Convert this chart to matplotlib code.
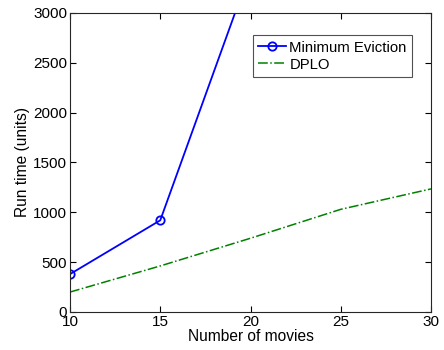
import matplotlib
matplotlib.use("Agg")
import matplotlib.pyplot as plt

plt.rcParams['font.family'] = ['Liberation Sans', 'DejaVu Sans']

movies = [10, 15, 20, 25, 30]
min_eviction_x = [10, 15, 20]
min_eviction = [380, 920, 3430]
dplo = [200, 462, 740, 1030, 1235]

xticks = [10, 15, 20, 25, 30]
yticks = [0, 500, 1000, 1500, 2000, 2500, 3000]

fig = plt.figure(figsize=(4.44, 3.5), dpi=100)
ax = fig.add_axes([0.1577, 0.1086, 0.813, 0.8543])

ax.plot(min_eviction_x, min_eviction, color='#0000ff', linewidth=1.3,
        marker='o', markersize=6, markerfacecolor='none', markeredgewidth=1.3,
        label='Minimum Eviction')
ax.plot(movies, dplo, color='#008000', linewidth=1.1, linestyle='-.',
        label='DPLO')

ax.set_xlim(10, 30)
ax.set_ylim(0, 3000)
ax.set_xticks(xticks)
ax.set_yticks(yticks)
ax.tick_params(direction='in', top=True, right=True, labelsize=11,
               length=4, width=0.8, pad=2)
for s in ax.spines.values():
    s.set_linewidth(0.8)
    s.set_color('#262626')

ax.set_xlabel('Number of movies', fontsize=11.2, labelpad=0)
ax.set_ylabel('Run time (units)', fontsize=11.2, labelpad=2)

leg = ax.legend(loc='upper right', bbox_to_anchor=(0.947, 0.925), fontsize=10.7,
                frameon=True, fancybox=False, handlelength=1.9,
                handletextpad=0.2, borderpad=0.35, labelspacing=0.2,
                borderaxespad=0)
leg.get_frame().set_edgecolor('#262626')
leg.get_frame().set_linewidth(0.8)

fig.savefig('out.png', dpi=100)
